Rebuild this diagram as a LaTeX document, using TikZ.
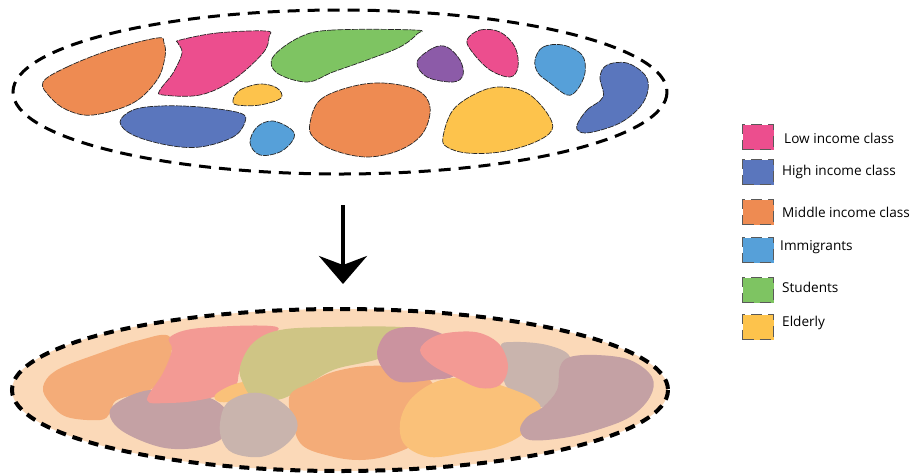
\documentclass[tikz,border=0pt]{standalone}
\usepackage{fontspec}
\setmainfont{Open Sans}
\usetikzlibrary{arrows.meta}
\definecolor{cpink}{HTML}{EC4E8E}
\definecolor{cblue}{HTML}{5A76BD}
\definecolor{corange}{HTML}{EE8B52}
\definecolor{clblue}{HTML}{56A0D9}
\definecolor{cgreen}{HTML}{7EC462}
\definecolor{cyellow}{HTML}{FDC34C}
\definecolor{cpurple}{HTML}{8C5BA8}
\definecolor{cpeach}{HTML}{FBD9B8}
\definecolor{morange}{HTML}{F4AC78}
\definecolor{mpink}{HTML}{F39A94}
\definecolor{mgreen}{HTML}{CFC585}
\definecolor{mpurple}{HTML}{CB939F}
\definecolor{mgrey}{HTML}{C9B4AD}
\definecolor{mmauve}{HTML}{C4A1A4}
\definecolor{myellow}{HTML}{FAC179}
\tikzset{
  blob/.style={draw=black!85, line width=0.7pt, dash pattern=on 6pt off 1.2pt},
  outerA/.style={draw=black, line width=3pt, dash pattern=on 12pt off 8pt},
  outerB/.style={draw=black, line width=4pt, dash pattern=on 10pt off 7pt},
  legbox/.style={draw=black!65, line width=0.8pt, dash pattern=on 11pt off 6pt, minimum width=31pt, minimum height=25pt, inner sep=0pt},
  legtext/.style={anchor=west, inner sep=0pt, font=\fontsize{13.6}{15}\selectfont}
}
\begin{document}
\begin{tikzpicture}[x=1pt,y=-1pt]
\useasboundingbox (0,0) rectangle (914,475);
% ---------- top group ----------
\draw[outerA] (340,92) ellipse [x radius=327, y radius=82];
\draw[blob, fill=corange] plot[smooth cycle, tension=0.6] coordinates {(43,82) (67,67) (110,50) (157,38) (164,43) (165,57) (157,80) (133,103) (93,115) (67,110) (50,97)};
\draw[blob, fill=cpink] plot[smooth cycle, tension=0.6] coordinates {(180,40) (217,33) (266,31) (269,37) (263,53) (233,80) (200,95) (163,95) (160,90) (173,73) (182,53) (178,43)};
\draw[blob, fill=cgreen] plot[smooth cycle, tension=0.6] coordinates {(415,30) (333,30) (300,37) (273,57) (277,73) (307,82) (333,72) (367,60) (400,47) (417,34)};
\draw[blob, fill=cyellow] plot[smooth cycle, tension=0.6] coordinates {(233,100) (240,90) (260,84) (277,88) (281,98) (260,105) (237,105)};
\draw[blob, fill=cblue] plot[smooth cycle, tension=0.6] coordinates {(120,122) (133,110) (160,106) (200,107) (240,113) (245,122) (233,137) (200,147) (167,145) (133,135)};
\draw[blob, fill=clblue] plot[smooth cycle, tension=0.6] coordinates {(250,143) (257,127) (273,121) (292,130) (293,140) (280,152) (260,155)};
\draw[blob, fill=corange] plot[smooth cycle, tension=0.6] coordinates {(310,123) (320,100) (350,87) (383,83) (417,90) (430,107) (423,133) (400,150) (367,157) (333,150) (313,137)};
\draw[blob, fill=cpurple] plot[smooth cycle, tension=0.6] coordinates {(417,62) (433,48) (447,47) (460,60) (463,75) (453,82) (427,77)};
\draw[blob, fill=cpink] plot[smooth cycle, tension=0.6] coordinates {(467,40) (480,30) (500,32) (515,47) (518,67) (510,77) (490,70) (473,53)};
\draw[blob, fill=clblue] plot[smooth cycle, tension=0.6] coordinates {(535,60) (543,47) (563,45) (582,55) (585,73) (577,90) (567,95) (550,83) (538,73)};
\draw[blob, fill=cblue] plot[smooth cycle, tension=0.6] coordinates {(577,125) (587,110) (603,97) (600,77) (607,65) (627,63) (645,75) (648,90) (640,107) (620,123) (593,132) (580,132)};
\draw[blob, fill=cyellow] plot[smooth cycle, tension=0.6] coordinates {(443,137) (453,110) (477,93) (500,87) (527,93) (547,113) (552,130) (533,143) (500,152) (467,153) (447,147)};
% ---------- arrow ----------
\coordinate (arrowtop) at (343,205);
\coordinate (arrowtip) at (343,284);
\draw[line width=4pt, -{Stealth[length=28pt, width=48pt, inset=9pt]}] (arrowtop) -- (arrowtip);
% ---------- bottom group ----------
\fill[cpeach] (340,390) ellipse [x radius=328, y radius=81];
\fill[morange] plot[smooth cycle, tension=0.6] coordinates {(43,387) (57,370) (100,353) (140,340) (170,337) (167,373) (150,390) (117,400) (110,413) (100,420) (67,417) (50,403)};
\fill[mmauve] plot[smooth cycle, tension=0.6] coordinates {(110,410) (125,398) (150,390) (180,392) (210,398) (226,410) (228,425) (220,440) (195,448) (165,448) (135,438) (115,425)};
\fill[mpink] plot[smooth cycle, tension=0.6] coordinates {(147,400) (163,373) (172,350) (170,337) (200,328) (277,327) (253,347) (240,370) (233,390) (200,400) (167,403)};
\fill[myellow] plot[smooth cycle, tension=0.6] coordinates {(215,395) (232,385) (250,382) (260,392) (240,400) (220,402)};
\fill[mgreen] plot[smooth cycle, tension=0.6] coordinates {(240,367) (253,343) (280,330) (333,327) (400,327) (410,333) (383,357) (333,370) (300,390) (277,400) (253,397) (243,383)};
\fill[morange] plot[smooth cycle, tension=0.6] coordinates {(290,395) (310,383) (333,372) (367,366) (400,368) (430,380) (440,410) (420,440) (390,455) (360,460) (330,456) (302,445) (292,420)};
\fill[mpurple] plot[smooth cycle, tension=0.6] coordinates {(377,353) (387,333) (410,327) (440,333) (460,350) (455,375) (430,380) (400,382) (385,372)};
\fill[mgrey] plot[smooth cycle, tension=0.6] coordinates {(500,347) (513,342) (547,345) (570,357) (563,383) (543,407) (530,400) (510,390) (503,377)};
\fill[myellow] plot[smooth cycle, tension=0.6] coordinates {(400,423) (410,400) (433,383) (460,378) (500,385) (540,405) (525,432) (497,447) (463,453) (430,457) (405,445)};
\fill[mpink] plot[smooth cycle, tension=0.6] coordinates {(420,350) (433,337) (455,332) (480,333) (500,345) (508,367) (500,385) (480,388) (457,378) (432,365)};
\fill[mmauve] plot[smooth cycle, tension=0.6] coordinates {(520,430) (527,417) (543,407) (557,390) (560,367) (570,357) (597,355) (630,360) (652,377) (650,397) (630,417) (597,430) (563,438) (530,440)};
\fill[mgrey] plot[smooth cycle, tension=0.6] coordinates {(220,423) (227,403) (250,393) (273,397) (293,413) (297,430) (283,447) (260,457) (233,453) (222,440)};
\draw[outerB] (340,390) ellipse [x radius=328, y radius=81];
% ---------- legend ----------
\node[legbox, fill=cpink]   (l1) at (758,137) {};
\node[legbox, fill=cblue]   (l2) at (758,172) {};
\node[legbox, fill=corange] (l3) at (758,212) {};
\node[legbox, fill=clblue]  (l4) at (758,250) {};
\node[legbox, fill=cgreen]  (l5) at (758,290) {};
\node[legbox, fill=cyellow] (l6) at (758,327) {};
\node[legtext] (t1) at (784,138) {Low income class};
\node[legtext] (t2) at (782,172) {High income class};
\node[legtext] (t3) at (782,212) {Middle income class};
\node[legtext] (t4) at (780,247) {Immigrants};
\node[legtext] (t5) at (782,287) {Students};
\node[legtext] (t6) at (782,323) {Elderly};
\end{tikzpicture}
\end{document}
